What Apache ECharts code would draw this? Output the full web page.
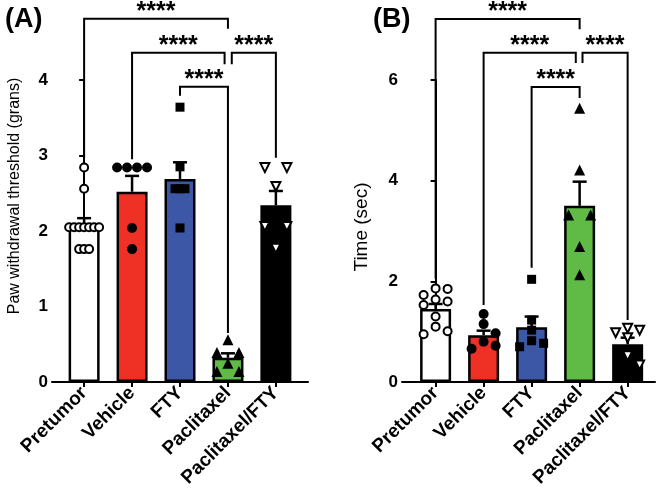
<!DOCTYPE html>
<html>
<head>
<meta charset="utf-8">
<script src="https://cdn.jsdelivr.net/npm/echarts@6/dist/echarts.min.js"></script>
<style>
  html, body { margin: 0; padding: 0; background: #fff; }
  #chart { width: 661px; height: 494px; }
</style>
</head>
<body>
<div id="chart"></div>
<script>
const categories = ['Pretumor', 'Vehicle', 'FTY', 'Paclitaxel', 'Paclitaxel/FTY'];
const barColors = ['#ffffff', '#ee3124', '#3d57a7', '#5fba46', '#000000'];

// panel A: paw withdrawal threshold
const meanA = [2.08, 2.52, 2.69, 0.32, 2.34];
const semA = [0.09, 0.21, 0.22, 0.06, 0.19];
const pointsA = [
  [2.84, 2.56, 2.05, 2.05, 2.05, 2.05, 2.05, 2.05, 2.05, 1.76, 1.76, 1.76],
  [2.84, 2.84, 2.84, 2.84, 2.04, 1.76],
  [3.64, 2.85, 2.56, 2.56, 2.56, 2.04],
  [0.56, 0.39, 0.39, 0.25, 0.14, 0.14],
  [2.84, 2.84, 2.59, 2.06, 2.06, 1.77]
];
// [x from, x to, top, left end, right end]
const bracketsA = [
  [0, 3, 4.81, 2.97, 4.68],
  [1, 2.93, 4.36, 2.95, 4.21],
  [3.08, 4, 4.36, 4.21, 2.97],
  [2, 3, 3.91, 3.79, 0.65]
];

// panel B: time (sec)
const meanB = [1.45, 0.93, 1.09, 3.50, 0.75];
const semB = [0.10, 0.09, 0.21, 0.48, 0.13];
const pointsB = [
  [1.86, 1.85, 1.73, 1.64, 1.60, 1.53, 1.30, 1.10, 1.01, 0.95],
  [1.35, 1.15, 0.97, 0.80, 0.72, 0.66],
  [2.04, 1.23, 1.03, 0.82, 0.77, 0.70],
  [5.44, 4.21, 3.32, 3.32, 2.69, 2.13],
  [1.07, 1.03, 0.98, 0.88, 0.52, 0.34]
];
const bracketsB = [
  [0, 3, 7.21, 2.05, 7.01],
  [1, 2.92, 6.54, 1.53, 6.34],
  [3.06, 4, 6.54, 6.34, 1.23],
  [2, 3, 5.86, 2.27, 5.64]
];

const FONT = '"Liberation Sans", Arial, sans-serif';
const markers = [
  { symbol: 'circle', size: 8, color: '#fff', border: 2 },
  { symbol: 'circle', size: 10, color: '#000', border: 0 },
  { symbol: 'rect', size: 9, color: '#000', border: 0 },
  { symbol: 'triangle', size: 11, color: '#000', border: 0 },
  { symbol: 'triangle', size: 9, color: '#fff', border: 2, rotate: 180 }
];

// spread points sideways like prism does (px offsets turned into x units)
function swarm(vals, pyUnit) {
  const d = 9.2, pxUnit = 48;
  const counts = {}, seen = {};
  const placed = [];
  vals.forEach(v => counts[v] = (counts[v] || 0) + 1);
  return vals.map(v => {
    const n = counts[v];
    const y = v * pyUnit;
    let o;
    if (n > 1) {
      const step = n === 3 ? 5 : Math.min(22, 30 / (n - 1));
      seen[v] = seen[v] === undefined ? 0 : seen[v] + 1;
      o = (seen[v] - (n - 1) / 2) * step;
    } else {
      o = [0, 12, -12, 24, -24].find(c => placed.every(p => Math.hypot(c - p.o, y - p.y) >= d));
      if (o === undefined) o = 0;
    }
    placed.push({ o: o, y: y });
    return [o / pxUnit, v];
  });
}

function xAxisFor(gridIndex, min, max) {
  return {
    type: 'value', gridIndex: gridIndex, min: min, max: max,
    axisLine: { show: true, onZero: false, lineStyle: { color: '#000', width: 2 } },
    axisTick: { show: true, customValues: [0, 1, 2, 3, 4], length: 5, lineStyle: { color: '#000', width: 2 } },
    axisLabel: {
      customValues: [0, 1, 2, 3, 4], rotate: 45, margin: 8,
      formatter: v => categories[Math.round(v)],
      color: '#000', fontSize: 19, fontWeight: 'bold', fontFamily: FONT
    },
    splitLine: { show: false }
  };
}

function yAxisFor(gridIndex, max, interval) {
  return {
    type: 'value', gridIndex: gridIndex, min: 0, max: max, interval: interval,
    axisLine: { show: true, lineStyle: { color: '#000', width: 2 } },
    axisTick: { show: true, length: 5, lineStyle: { color: '#000', width: 2 } },
    axisLabel: { color: '#000', fontSize: 17, fontWeight: 'bold', fontFamily: FONT, margin: 4 },
    splitLine: { show: false }
  };
}

function panelSeries(idx, means, sems, points, brackets, pyUnit) {
  const list = [];
  list.push({
    type: 'bar', xAxisIndex: idx, yAxisIndex: idx, barWidth: 31, z: 2,
    data: means.map((m, i) => ({
      value: [i, m],
      itemStyle: { color: barColors[i], borderColor: '#000', borderWidth: 2.5 }
    }))
  });
  list.push({
    type: 'custom', xAxisIndex: idx, yAxisIndex: idx, z: 3, clip: false,
    data: means.map((m, i) => [i, m, sems[i]]),
    encode: { x: 0, y: 1 },
    renderItem: (params, api) => {
      const x = api.value(0), m = api.value(1), s = api.value(2);
      const p0 = api.coord([x, m]), p1 = api.coord([x, m + s]);
      const st = { stroke: '#000', lineWidth: 2.5 };
      return {
        type: 'group', children: [
          { type: 'line', shape: { x1: p0[0], y1: p0[1], x2: p1[0], y2: p1[1] }, style: st },
          { type: 'line', shape: { x1: p1[0] - 7, y1: p1[1], x2: p1[0] + 7, y2: p1[1] }, style: st }
        ]
      };
    }
  });
  points.forEach((vals, i) => {
    const mk = markers[i];
    list.push({
      type: 'scatter', xAxisIndex: idx, yAxisIndex: idx, z: 4,
      symbol: mk.symbol, symbolSize: mk.size, symbolRotate: mk.rotate || 0,
      itemStyle: { color: mk.color, borderColor: '#000', borderWidth: mk.border, opacity: 1 },
      data: swarm(vals, pyUnit).map(p => [i + p[0], p[1]])
    });
  });
  list.push({
    type: 'custom', xAxisIndex: idx, yAxisIndex: idx, z: 5, clip: false,
    data: brackets,
    encode: { x: [0, 1], y: [2, 3, 4] },
    renderItem: (params, api) => {
      const x1 = api.value(0), x2 = api.value(1);
      const a = api.coord([x1, api.value(3)]);
      const b = api.coord([x1, api.value(2)]);
      const c = api.coord([x2, api.value(2)]);
      const d = api.coord([x2, api.value(4)]);
      return {
        type: 'group', children: [
          { type: 'polyline', shape: { points: [a, b, c, d] }, style: { stroke: '#000', lineWidth: 2, fill: null } },
          {
            type: 'text', x: (b[0] + c[0]) / 2, y: b[1] - 7,
            style: { text: '****', align: 'center', verticalAlign: 'middle', font: 'bold 25px ' + FONT, fill: '#000' }
          }
        ]
      };
    }
  });
  return list;
}

const chart = echarts.init(document.getElementById('chart'));
chart.setOption({
  animation: false,
  grid: [
    { left: 52, top: 80, width: 256, height: 302 },
    { left: 402, top: 80, width: 253, height: 302 }
  ],
  xAxis: [xAxisFor(0, -0.67, 4.67), xAxisFor(1, -0.7, 4.57)],
  yAxis: [yAxisFor(0, 4, 1), yAxisFor(1, 6, 2)],
  graphic: [
    { type: 'text', x: 5, y: 20, style: { text: '(A)', font: 'bold 27px ' + FONT, fill: '#000', align: 'left', verticalAlign: 'middle' } },
    { type: 'text', x: 373, y: 20, style: { text: '(B)', font: 'bold 27px ' + FONT, fill: '#000', align: 'left', verticalAlign: 'middle' } },
    { type: 'text', x: 15, y: 196, rotation: Math.PI / 2, style: { text: 'Paw withdrawal threshold (grans)', font: '16px ' + FONT, fill: '#000', align: 'center', verticalAlign: 'middle' } },
    { type: 'text', x: 362, y: 227, rotation: Math.PI / 2, style: { text: 'Time (sec)', font: '19px ' + FONT, fill: '#000', align: 'center', verticalAlign: 'middle' } }
  ],
  series: panelSeries(0, meanA, semA, pointsA, bracketsA, 75.5)
    .concat(panelSeries(1, meanB, semB, pointsB, bracketsB, 50.33))
});
</script>
</body>
</html>
